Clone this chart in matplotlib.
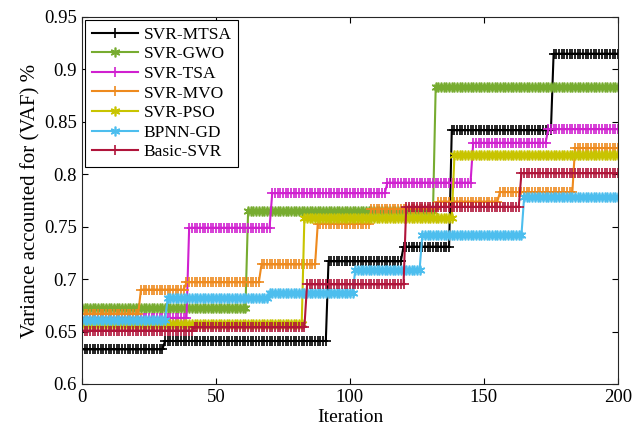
import matplotlib
matplotlib.use("Agg")
import matplotlib.pyplot as plt
from matplotlib.ticker import FormatStrFormatter
import numpy as np

# step data: iteration where each level starts, and the level
n_iter = 200
names = ["SVR-MTSA", "SVR-GWO", "SVR-TSA", "SVR-MVO", "SVR-PSO", "BPNN-GD", "Basic-SVR"]

mtsa_starts = [0, 31, 92, 120, 138, 176]
mtsa_levels = [0.633, 0.641, 0.717, 0.731, 0.842, 0.915]
gwo_starts = [0, 62, 132]
gwo_levels = [0.672, 0.765, 0.883]
tsa_starts = [0, 40, 71, 114, 146, 174]
tsa_levels = [0.663, 0.749, 0.782, 0.792, 0.830, 0.843]
mvo_starts = [0, 22, 39, 67, 88, 108, 133, 156, 184]
mvo_levels = [0.667, 0.690, 0.697, 0.714, 0.753, 0.767, 0.774, 0.783, 0.825]
pso_starts = [0, 83, 139]
pso_levels = [0.657, 0.758, 0.818]
bpnn_starts = [0, 32, 70, 102, 127, 165]
bpnn_levels = [0.661, 0.682, 0.687, 0.709, 0.742, 0.778]
svr_starts = [0, 42, 84, 121, 164]
svr_levels = [0.651, 0.654, 0.695, 0.769, 0.801]

colors = ["#000000", "#77AC30", "#D020D0", "#EE8A1E", "#C8C400", "#4DBEEE", "#B0143A"]
asterisk = (6, 2, 0)  # MATLAB-like '*' (line asterisk, not a filled star)
markers = ["+", asterisk, "+", "+", asterisk, asterisk, "+"]


def steps(starts, levels):
    """Expand a step curve into one value per iteration 0..n_iter."""
    ends = starts[1:] + [n_iter + 1]
    lens = [e - s for s, e in zip(starts, ends)]
    return np.repeat(levels, lens)


series = [steps(mtsa_starts, mtsa_levels), steps(gwo_starts, gwo_levels),
          steps(tsa_starts, tsa_levels), steps(mvo_starts, mvo_levels),
          steps(pso_starts, pso_levels), steps(bpnn_starts, bpnn_levels),
          steps(svr_starts, svr_levels)]
it = np.arange(0, n_iter + 1)

plt.rcParams["font.family"] = "Liberation Serif"
plt.rcParams["font.size"] = 13

fig = plt.figure(figsize=(6.32, 4.37), dpi=100)
ax = fig.add_axes([0.1297, 0.1213, 0.848, 0.8398])

for y, name, c, m in zip(series, names, colors, markers):
    ax.plot(it, y, color=c, marker=m, markersize=7, markeredgewidth=1.2,
            linewidth=1.5, label=name)

ax.set_xlim(0, 200)
ax.set_ylim(0.6, 0.95)
ax.set_xticks(np.arange(0, 201, 50))
ax.set_yticks(np.arange(0.6, 0.951, 0.05))
ax.yaxis.set_major_formatter(FormatStrFormatter("%g"))
ax.tick_params(direction="in", top=True, right=True, length=4, width=0.8, labelsize=13.5)
for sp in ax.spines.values():
    sp.set_linewidth(0.8)
    sp.set_color("#262626")

ax.set_xlabel("Iteration", fontsize=14, labelpad=2)
ax.set_ylabel("Variance accounted for (VAF) %", fontsize=15, labelpad=3)

leg = ax.legend(loc="upper left", fontsize=12.5, handlelength=2.7, handletextpad=0.3,
                labelspacing=0.2, borderpad=0.35, borderaxespad=0.2, fancybox=False,
                framealpha=1, edgecolor="black")
leg.get_frame().set_linewidth(0.8)

fig.savefig("out.png", dpi=100)
